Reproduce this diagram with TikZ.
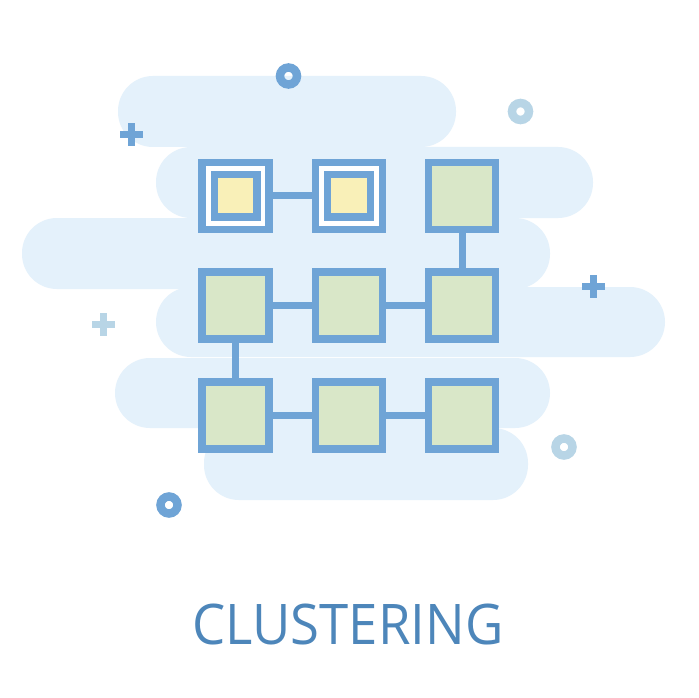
\documentclass[tikz,border=0pt]{standalone}
\usepackage{fontspec}
\setmainfont{Open Sans}
\definecolor{iconblue}{HTML}{6FA4D6}
\definecolor{lightring}{HTML}{B8D5E6}
\definecolor{cloudbg}{HTML}{E4F1FB}
\definecolor{boxgreen}{HTML}{D9E7C8}
\definecolor{boxyellow}{HTML}{F9F0B8}
\definecolor{titleblue}{HTML}{4D86BA}
\tikzset{
  cloud/.style={fill=cloudbg, rounded corners=35pt},
  box/.style={draw=iconblue, fill=boxgreen, line width=7.3pt, minimum size=67pt, inner sep=0pt, rectangle},
  outerbox/.style={draw=iconblue, fill=white, line width=7.3pt, minimum size=67pt, inner sep=0pt, rectangle},
  innerbox/.style={draw=iconblue, fill=boxyellow, line width=7.3pt, minimum size=42.7pt, inner sep=0pt, rectangle},
  link/.style={draw=iconblue, line width=6.8pt},
  ringdark/.style={draw=iconblue, line width=8.5pt},
  ringlight/.style={draw=lightring, line width=8.5pt},
}
\begin{document}
\begin{tikzpicture}[x=1pt,y=-1pt]
\fill[white] (0,0) rectangle (699,698);
\useasboundingbox (0,0) rectangle (699,698);
% background clouds
\fill[cloud] (118,76) rectangle (456,147);
\fill[cloud] (156,147) rectangle (593,218);
\fill[cloud] (22,218) rectangle (550,289);
\fill[cloud] (156,287) rectangle (665,357);
\fill[cloud] (115,358) rectangle (550,428);
\fill[cloud] (204,428) rectangle (528,500);
% decorations
\draw[ringdark] (288.5,76) circle (8.5);
\draw[ringlight] (520.5,111.5) circle (8.5);
\draw[ringlight] (564,447) circle (8.5);
\draw[ringdark] (169,505) circle (8.5);
\fill[iconblue] (119.5,131) rectangle (142.5,138);
\fill[iconblue] (127.5,123) rectangle (134.5,146);
\fill[iconblue] (581.5,283) rectangle (604.5,290);
\fill[iconblue] (589.5,275) rectangle (596.5,298);
\fill[lightring] (91.5,321) rectangle (114.5,328);
\fill[lightring] (99.5,313) rectangle (106.5,336);
% boxes
\node[outerbox] (a1) at (235.5,195.7) {};
\node[innerbox] (a1i) at (235.5,195.7) {};
\node[outerbox] (a2) at (349,195.7) {};
\node[innerbox] (a2i) at (349,195.7) {};
\node[box] (a3) at (462.3,195.7) {};
\node[box] (b1) at (235.5,305.5) {};
\node[box] (b2) at (349,305.5) {};
\node[box] (b3) at (462.3,305.5) {};
\node[box] (c1) at (235.5,415.5) {};
\node[box] (c2) at (349,415.5) {};
\node[box] (c3) at (462.3,415.5) {};
% links
\draw[link] (a1) -- (a2);
\draw[link] (a3) -- (b3);
\draw[link] (b1) -- (b2);
\draw[link] (b2) -- (b3);
\draw[link] (b1) -- (c1);
\draw[link] (c1) -- (c2);
\draw[link] (c2) -- (c3);
% title
\node[anchor=base, text=titleblue, inner sep=0pt, xscale=0.94, font=\fontsize{56}{60}\selectfont] (title) at (348,644) {CLUSTERING};
\end{tikzpicture}
\end{document}
